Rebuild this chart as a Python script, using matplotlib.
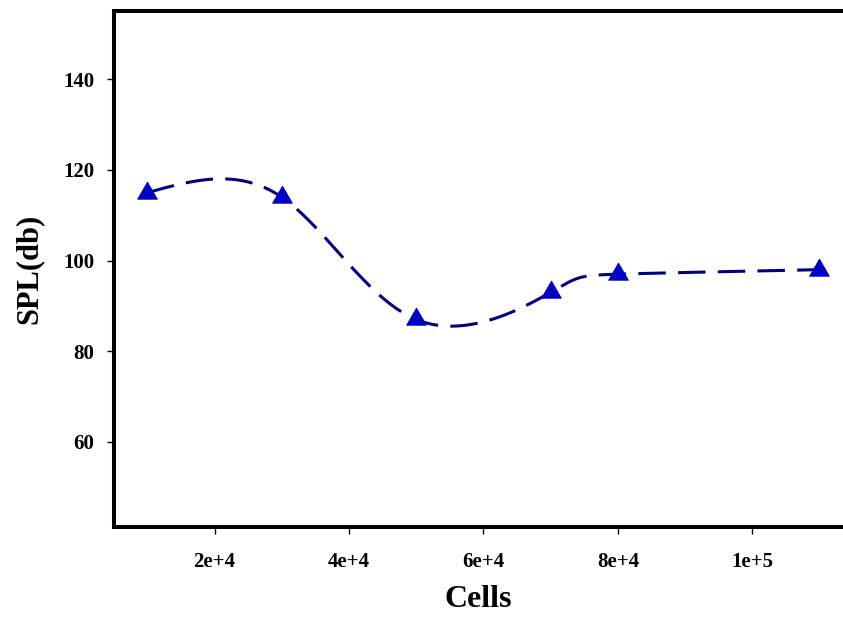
import matplotlib
matplotlib.use("Agg")
import matplotlib.pyplot as plt
import numpy as np

# data
cells = [10000, 30000, 50000, 70000, 80000, 110000]
spl_db = [115, 114, 87, 93, 97, 98]

x_ticks = [20000, 40000, 60000, 80000, 100000]
x_tick_labels = ["2e+4", "4e+4", "6e+4", "8e+4", "1e+5"]
y_ticks = [60, 80, 100, 120, 140]


def natural_spline(ts, ys, tt):
    # natural cubic spline of ys over ts, evaluated at tt
    ts = np.asarray(ts, dtype=float)
    ys = np.asarray(ys, dtype=float)
    k = len(ts)
    h = np.diff(ts)
    A = np.zeros((k, k))
    b = np.zeros(k)
    A[0, 0] = 1
    A[-1, -1] = 1
    for i in range(1, k - 1):
        A[i, i - 1] = h[i - 1]
        A[i, i] = 2 * (h[i - 1] + h[i])
        A[i, i + 1] = h[i]
        b[i] = 3 * ((ys[i + 1] - ys[i]) / h[i] - (ys[i] - ys[i - 1]) / h[i - 1])
    c = np.linalg.solve(A, b)
    idx = np.clip(np.searchsorted(ts, tt) - 1, 0, k - 2)
    dx = tt - ts[idx]
    hi = h[idx]
    bi = (ys[idx + 1] - ys[idx]) / hi - hi * (2 * c[idx] + c[idx + 1]) / 3
    di = (c[idx + 1] - c[idx]) / (3 * hi)
    return ys[idx] + bi * dx + c[idx] * dx ** 2 + di * dx ** 3


plt.rcParams["font.family"] = ["Liberation Serif", "DejaVu Serif"]
plt.rcParams["font.weight"] = "bold"

fig = plt.figure(figsize=(8.43, 6.22), dpi=100)
ax = fig.add_axes([0.1349, 0.1527, 0.8651, 0.829])

# smooth curve: parametric spline over the point index
t = np.arange(len(cells), dtype=float)
tt = np.linspace(0, t[-1], 500)
curve_x = natural_spline(t, cells, tt)
curve_y = natural_spline(t, spl_db, tt)
ax.plot(curve_x, curve_y, color="#000080", lw=2.2, dashes=(9, 4), solid_capstyle="butt")

# triangle with its centroid on the data point
tri = [(0, 1), (-0.866, -0.5), (0.866, -0.5), (0, 1)]
ax.plot(cells, spl_db, linestyle="none", marker=tri, markersize=16.6,
        color="#0000C0", markeredgewidth=0.5)

ax.set_xlim(5000, 113500)
ax.set_ylim(41.2, 155)
ax.set_xticks(x_ticks)
ax.set_xticklabels(x_tick_labels)
ax.set_yticks(y_ticks)

for side in ["left", "bottom", "top"]:
    ax.spines[side].set_linewidth(2.9)
ax.spines["right"].set_visible(False)

ax.tick_params(axis="both", direction="out", length=5, width=1, labelsize=15)
ax.tick_params(axis="x", pad=13)
ax.tick_params(axis="y", pad=9)
for lbl in ax.get_xticklabels() + ax.get_yticklabels():
    lbl.set_fontweight("bold")

ax.set_xlabel("Cells", fontsize=23, fontweight="bold", labelpad=9)
ax.set_ylabel("SPL(db)", fontsize=22, fontweight="bold", labelpad=14)

fig.savefig("out.png", dpi=100)
